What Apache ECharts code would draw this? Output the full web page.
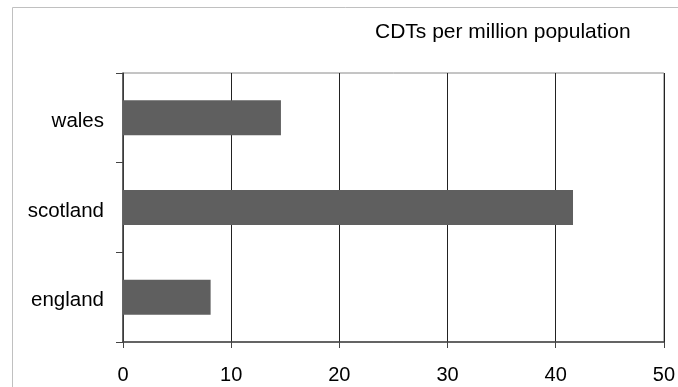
<!DOCTYPE html>
<html>
<head>
<meta charset="utf-8">
<script src="https://cdn.jsdelivr.net/npm/echarts@6/dist/echarts.min.js"></script>
<style>html,body{margin:0;padding:0;background:#fff;}#c{width:678px;height:387px;}</style>
</head>
<body>
<div id="c"></div>
<script>
const categories = ['england', 'scotland', 'wales'];
const values = [8.1, 41.6, 14.6];
const xTicks = [0, 10, 20, 30, 40, 50];
const titleText = 'CDTs per million population';

const chart = echarts.init(document.getElementById('c'), null, {renderer: 'canvas'});
const font = 'Liberation Sans, Arial, sans-serif';
chart.setOption({
  animation: false,
  backgroundColor: '#fff',
  grid: {left: 123, right: 11, top: 73, bottom: 45, show: true, borderColor: '#8a8a8a', borderWidth: 1, backgroundColor: 'transparent'},
  graphic: [
    {type: 'rect', shape: {x: 12.5, y: 7.5, width: 700, height: 400}, style: {fill: 'none', stroke: '#c0c0c0', lineWidth: 1}, silent: true},
    {type: 'text', left: 375, top: 22, style: {text: titleText, font: '21px ' + font, fill: '#000'}}
  ],
  xAxis: {
    type: 'value', min: xTicks[0], max: xTicks[xTicks.length - 1], interval: 10,
    axisLine: {show: true, lineStyle: {color: '#444', width: 1.5}},
    axisTick: {show: true, length: 6, lineStyle: {color: '#444'}},
    axisLabel: {fontSize: 20, fontFamily: font, color: '#000', margin: 23},
    splitLine: {show: true, lineStyle: {color: '#222', width: 1}}
  },
  yAxis: {
    type: 'category', data: categories, boundaryGap: true,
    axisLine: {show: true, lineStyle: {color: '#444', width: 1.5}},
    axisTick: {show: true, length: 7, lineStyle: {color: '#444'}},
    axisLabel: {fontSize: 20.5, fontFamily: font, color: '#000', margin: 19, verticalAlign: 'top', lineHeight: 7},
    splitLine: {show: false}
  },
  series: [{
    type: 'bar', data: values, barWidth: '39%',
    itemStyle: {color: '#5f5f5f'}
  }]
});
</script>
</body>
</html>
